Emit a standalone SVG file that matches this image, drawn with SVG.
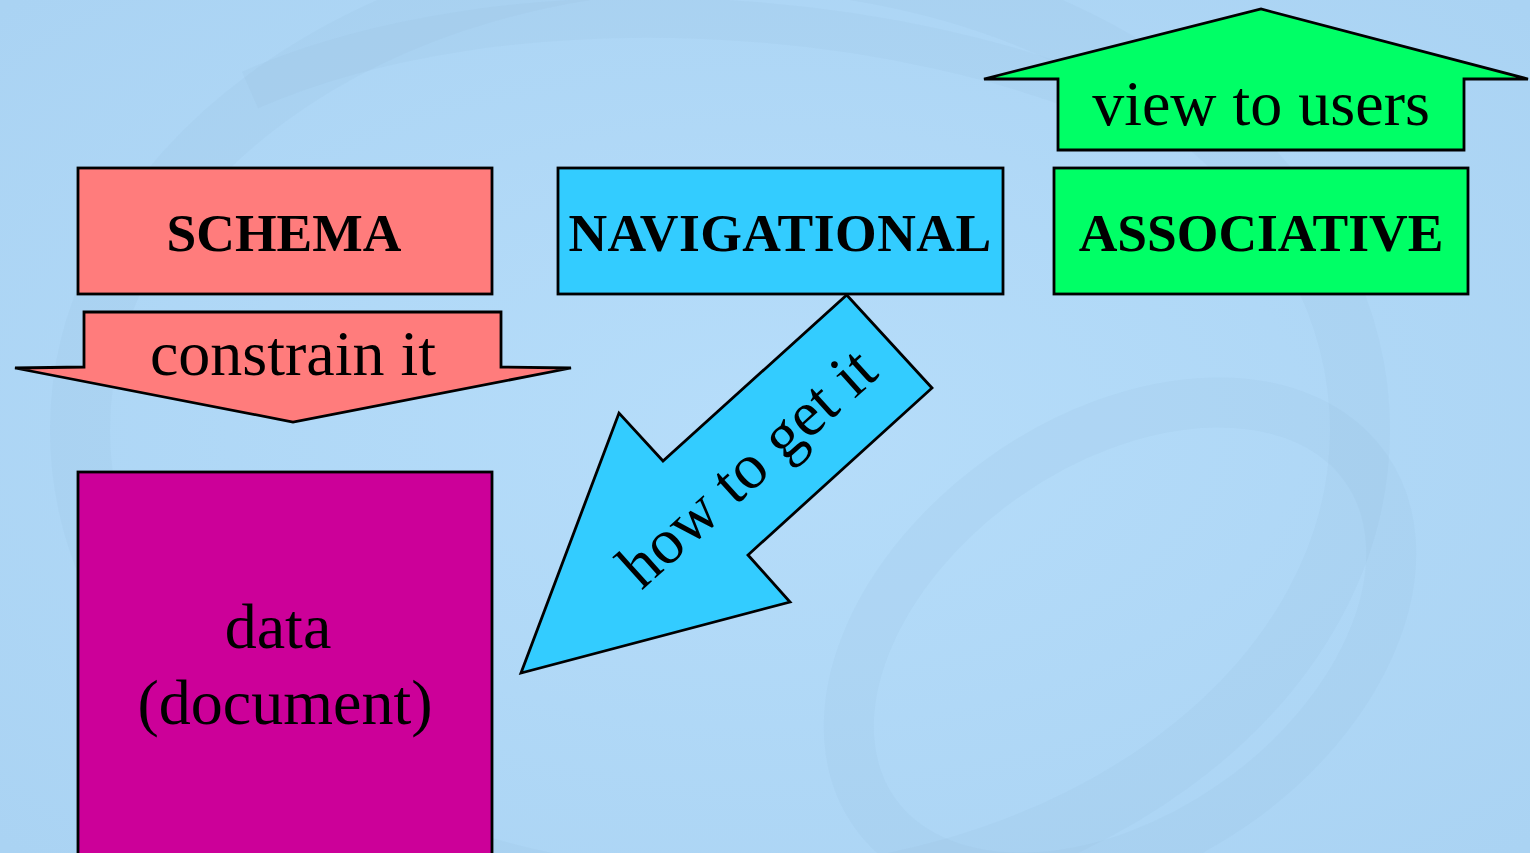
<svg xmlns="http://www.w3.org/2000/svg" width="1530" height="853" viewBox="0 0 1530 853">
<defs>
<style>
.shape{stroke:#000;stroke-width:2.8;stroke-linejoin:miter}
.bold{font-family:"Liberation Serif","Times New Roman",serif;font-weight:bold;font-size:53.5px;fill:#000;text-anchor:middle}
.reg{font-family:"Liberation Serif","Times New Roman",serif;font-size:64px;fill:#000;text-anchor:middle}
.swirl{fill:none;stroke:#8fb8da;stroke-opacity:0.13}
</style>
<radialGradient id="bg" cx="0.5" cy="0.5" r="0.7">
<stop offset="0" stop-color="#b6ddfa"/>
<stop offset="1" stop-color="#aad3f3"/>
</radialGradient>
</defs>
<rect width="1530" height="853" fill="url(#bg)"/>
<g id="background-swirls">
<ellipse class="swirl" cx="720" cy="430" rx="640" ry="470" stroke-width="60"/>
<ellipse class="swirl" cx="1120" cy="640" rx="300" ry="200" stroke-width="50" transform="rotate(-35 1120 640)"/>
<path class="swirl" d="M250 90 C 500 -20 900 0 1150 120" stroke-width="40"/>
</g>
<g id="connectors">
<g id="arrow-constrain">
<polygon class="shape" fill="#ff7c7c" points="84,312 501,312 501,367 571,368 293,422 15,368 84,367"/>
<text class="reg" x="293" y="375">constrain it</text>
</g>
<g id="arrow-how">
<polygon class="shape" fill="#33ccff" points="846.7,295 932,388 748,555 790,602 521,673 619,413 663,461"/>
<text class="reg" transform="translate(761,483) rotate(-42)" x="0" y="0">how to get it</text>
</g>
<g id="arrow-view">
<polygon class="shape" fill="#00ff66" points="1058,150 1464,150 1464,79 1528,79 1261,9 984,79 1058,79"/>
<text class="reg" x="1261" y="125">view to users</text>
</g>
</g>
<g id="node-schema">
<rect class="shape" x="78" y="168" width="414" height="126" fill="#ff7c7c"/>
<text class="bold" x="284" y="251">SCHEMA</text>
</g>
<g id="node-navigational">
<rect class="shape" x="558" y="168" width="445" height="126" fill="#33ccff"/>
<text class="bold" x="780" y="251" letter-spacing="0.5">NAVIGATIONAL</text>
</g>
<g id="node-associative">
<rect class="shape" x="1054" y="168" width="414" height="126" fill="#00ff66"/>
<text class="bold" x="1261" y="251">ASSOCIATIVE</text>
</g>
<g id="node-data">
<rect class="shape" x="78" y="472" width="414" height="400" fill="#cc0099"/>
<text class="reg" x="278" y="648">data</text>
<text class="reg" x="285" y="724">(document)</text>
</g>
</svg>
